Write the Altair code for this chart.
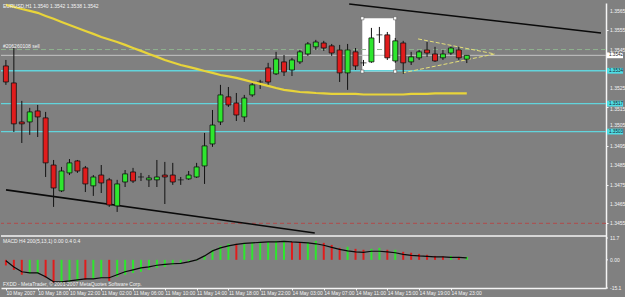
import altair as alt
import pandas as pd

# ---------------- texts ----------------
symbol_title = "EURUSD,H1  1.3540 1.3542 1.3538 1.3542"
order_label = "#206260108 sell"
macd_title = "MACD H4 200(5,13,1) 0.00 0.4 0.4"
footer_text = "FXDD - MetaTrader, \u00a9 2001-2007 MetaQuotes Software Corp."

# ---------------- candles (H1) ----------------
opens = [1.35365, 1.35277, 1.35075, 1.35075, 1.35132, 1.35096, 1.34852, 1.34718, 1.34811, 1.34873,
         1.34837, 1.34744, 1.34800, 1.34775, 1.34640, 1.34764, 1.34816, 1.34790, 1.34775, 1.34775,
         1.34800, 1.34800, 1.34775, 1.34780, 1.34790, 1.34847, 1.34961, 1.35075, 1.35205, 1.35173,
         1.35101, 1.35215, 1.35282, 1.35355, 1.35324, 1.35386, 1.35344, 1.35386, 1.35427, 1.35464,
         1.35484, 1.35469, 1.35448, 1.35329, 1.35438, 1.35381, 1.35386, 1.35526, 1.35526, 1.35391,
         1.35484, 1.35386, 1.35407, 1.35448, 1.35427, 1.35407, 1.35432, 1.35448, 1.35400]
highs = [1.35396, 1.35458, 1.35184, 1.35148, 1.35163, 1.35127, 1.34878, 1.34842, 1.34883, 1.34878,
         1.34847, 1.34800, 1.34852, 1.34785, 1.34775, 1.34826, 1.34837, 1.34811, 1.34800, 1.34878,
         1.34868, 1.34863, 1.34790, 1.34821, 1.34863, 1.35018, 1.35137, 1.35267, 1.35256, 1.35225,
         1.35215, 1.35282, 1.35293, 1.35381, 1.35438, 1.35422, 1.35407, 1.35448, 1.35489, 1.35500,
         1.35495, 1.35479, 1.35474, 1.35479, 1.35458, 1.35396, 1.35562, 1.35567, 1.35541, 1.35510,
         1.35495, 1.35438, 1.35448, 1.35489, 1.35464, 1.35448, 1.35464, 1.35464, 1.35420]
lows = [1.35267, 1.35023, 1.34966, 1.35008, 1.34997, 1.34790, 1.34635, 1.34712, 1.34800, 1.34811,
        1.34712, 1.34692, 1.34707, 1.34635, 1.34609, 1.34738, 1.34759, 1.34769, 1.34738, 1.34738,
        1.34650, 1.34749, 1.34749, 1.34775, 1.34785, 1.34754, 1.34946, 1.35059, 1.35153, 1.35080,
        1.35075, 1.35205, 1.35246, 1.35262, 1.35318, 1.35313, 1.35313, 1.35375, 1.35417, 1.35448,
        1.35443, 1.35417, 1.35282, 1.35241, 1.35344, 1.35365, 1.35381, 1.35484, 1.35396, 1.35381,
        1.35324, 1.35370, 1.35396, 1.35412, 1.35386, 1.35396, 1.35422, 1.35396, 1.35380]
closes = [1.35282, 1.35065, 1.35065, 1.35127, 1.35101, 1.34863, 1.34733, 1.34821, 1.34863, 1.34821,
          1.34754, 1.34790, 1.34759, 1.34645, 1.34754, 1.34806, 1.34769, 1.34790, 1.34785, 1.34790,
          1.34790, 1.34764, 1.34775, 1.34800, 1.34842, 1.34951, 1.35059, 1.35215, 1.35163, 1.35111,
          1.35199, 1.35267, 1.35282, 1.35282, 1.35401, 1.35334, 1.35396, 1.35438, 1.35479, 1.35489,
          1.35458, 1.35432, 1.35329, 1.35448, 1.35365, 1.35381, 1.35510, 1.35526, 1.35407, 1.35495,
          1.35381, 1.35412, 1.35438, 1.35432, 1.35391, 1.35427, 1.35458, 1.35407, 1.35420]
ma_values = [1.35681, 1.35671, 1.35660, 1.35650, 1.35640, 1.35624, 1.35609, 1.35593, 1.35577, 1.35562,
             1.35546, 1.35531, 1.35515, 1.35502, 1.35489, 1.35474, 1.35458, 1.35443, 1.35427, 1.35412,
             1.35396, 1.35383, 1.35370, 1.35360, 1.35350, 1.35339, 1.35329, 1.35318, 1.35311, 1.35303,
             1.35293, 1.35282, 1.35272, 1.35262, 1.35251, 1.35241, 1.35236, 1.35230, 1.35228, 1.35225,
             1.35223, 1.35220, 1.35220, 1.35220, 1.35220, 1.35217, 1.35217, 1.35217, 1.35217, 1.35217,
             1.35217, 1.35220, 1.35220, 1.35220, 1.35223, 1.35223, 1.35223, 1.35223, 1.35223]

# ---------------- MACD ----------------
macd_hist = [-3.0, -5.4, -8.0, -7.5, -7.5, -9.6, -12.3, -12.3, -11.8, -11.3,
             -10.7, -10.2, -9.6, -11.3, -9.1, -8.0, -7.0, -6.4, -5.4, -4.3,
             -3.8, -2.7, -1.6, -1.1, -0.3, 2.1, 5.4, 7.5, 8.6, 8.6,
             9.1, 9.6, 9.6, 9.6, 10.2, 10.2, 9.6, 9.1, 9.6, 10.2,
             9.1, 8.0, 6.4, 7.0, 5.9, 5.4, 5.9, 6.4, 5.4, 5.4,
             4.3, 3.8, 3.2, 2.7, 2.1, 1.9, 2.1, 1.6, 1.6]
macd_colors = ["r", "r", "r", "g", "g", "r", "r", "g", "g", "g",
               "r", "g", "g", "r", "g", "g", "g", "g", "g", "g",
               "g", "g", "g", "g", "g", "g", "g", "g", "g", "r",
               "g", "g", "g", "g", "g", "g", "r", "r", "g", "g",
               "r", "r", "r", "g", "r", "r", "g", "g", "r", "g",
               "r", "r", "r", "r", "r", "r", "g", "r", "g"]
macd_signal = [-0.5, -3.8, -6.4, -7.0, -7.0, -9.1, -11.8, -11.8, -11.3, -10.7,
               -10.2, -10.2, -9.6, -9.6, -8.0, -6.4, -5.4, -4.3, -3.8, -2.9,
               -2.4, -2.1, -1.9, -1.1, 0.0, 2.1, 4.8, 6.4, 7.5, 8.3,
               8.8, 9.1, 9.4, 9.6, 9.6, 9.9, 9.6, 9.4, 9.1, 8.6,
               7.8, 6.7, 5.6, 4.8, 4.3, 4.0, 4.6, 4.6, 4.3, 3.8,
               2.9, 2.4, 2.1, 1.9, 1.6, 1.6, 1.3, 1.3, 1.1]
macd_ticks = [11.7, 0.0, -15.1]
macd_tick_labels = ["11.7", "0.00", "-15.1"]

# ---------------- axes ----------------
time_tick_index = [0, 4, 8, 12, 16, 20, 24, 28, 32, 36, 40, 44, 48, 52, 56]
time_tick_labels = ["10 May 2007", "10 May 18:00", "10 May 22:00", "11 May 02:00", "11 May 06:00",
                    "11 May 10:00", "11 May 14:00", "11 May 18:00", "11 May 22:00", "14 May 03:00",
                    "14 May 07:00", "14 May 11:00", "14 May 15:00", "14 May 19:00", "14 May 23:00"]
price_ticks = [1.3565, 1.3555, 1.3545, 1.3535, 1.3525, 1.3515, 1.3505, 1.3495,
               1.3485, 1.3475, 1.3465, 1.3455]
# the 1.3535 label is hidden behind the 1.3534 line tag in the reference
price_label_values = [1.3565, 1.3555, 1.3545, 1.3525, 1.3515, 1.3505, 1.3495,
                      1.3485, 1.3475, 1.3465, 1.3455]
price_label_texts = ["1.3565", "1.3555", "1.3545", "1.3525", "1.3515", "1.3505", "1.3495",
                     "1.3485", "1.3475", "1.3465", "1.3455"]
# labels sitting just under / just over a line tag
label_below_tag = "1.3515"
label_above_tag = "1.3505"

# ---------------- chart objects ----------------
level_prices = [1.3545, 1.3542, 1.3534, 1.3517, 1.35025, 1.3455]
level_kinds = ["order", "bid", "line", "line", "line", "stop"]
level_texts = ["", "1.3542", "1.3534", "1.3517", "1.3503", ""]
upper_trend_i = [43.2, 74.89]
upper_trend_p = [1.35686, 1.35536]
lower_trend_i = [0.012, 38.87]
lower_trend_p = [1.34723, 1.34500]
tri_i = [51.87, 61.52, 49.89, 61.52]
tri_p = [1.35505, 1.35427, 1.35329, 1.35427]
tri_seg = ["u", "u", "l", "l"]
box_i = [44.85, 48.98]
box_p = [1.35336, 1.35612]

# ---------------- styling ----------------
BG = "#808080"
GREEN = "#2ee62e"
RED = "#e01c1c"
CYAN = "#62d4dc"
WHITE = "#f4f4f4"
FONT = "Liberation Sans"
FS = 5

W, H = 605, 285          # whole plot: price panel on top, MACD panel in the lowest 50 px
MAIN_H = 233
X_DOM = [0.012, 74.89]
Y_DOM = [1.34215, 1.35691]     # price panel occupies the upper 233 px
M_DOM = [-15.1, 137.66]        # MACD panel occupies the lower 50 px

xs = alt.Scale(domain=X_DOM, nice=False, zero=False)
ys = alt.Scale(domain=Y_DOM, nice=False, zero=False)
ms = alt.Scale(domain=M_DOM, nice=False, zero=False)

n = len(opens)
df = pd.DataFrame({
    "i": list(range(n)), "open": opens, "high": highs, "low": lows, "close": closes,
    "ma": ma_values, "hist": macd_hist, "hcol": macd_colors, "sig": macd_signal,
})
base = alt.Chart(df)

label_array = "[" + ",".join("'" + s + "'" for s in time_tick_labels) + "]"
x_axis = alt.Axis(orient="bottom", values=time_tick_index,
                  labelExpr=label_array + "[round(datum.value / 4)]",
                  labelAlign="left", labelBaseline="top", labelFontSize=FS, labelFont=FONT,
                  labelColor=WHITE, tickColor=WHITE, tickSize=2, labelPadding=0,
                  domainColor=WHITE, domainWidth=1.5, grid=False, labelOverlap=False,
                  labelFlush=False, title=None)
y_axis = alt.Axis(orient="right", values=price_ticks, labels=False, tickColor=WHITE, tickSize=2,
                  domainColor=WHITE, domainWidth=1.5, grid=False, title=None)

X = lambda f: alt.X(f, scale=xs, title=None)
Y = lambda f: alt.Y(f, scale=ys, title=None)
M = lambda f: alt.Y(f, scale=ms, title=None, axis=None)

# ---- price panel ----
wicks = base.mark_rule(color="#111111", strokeWidth=1, clip=True).encode(
    x=alt.X("i:Q", scale=xs, axis=x_axis, title=None),
    y=alt.Y("low:Q", scale=ys, axis=y_axis, title=None),
    y2="high:Q",
)
bodies = base.transform_calculate(body="abs(datum.close - datum.open)").transform_filter(
    "datum.body >= 0.00003"
).mark_bar(size=5, stroke="#111111", strokeWidth=0.8, clip=True).encode(
    x=X("i:Q"), y=Y("open:Q"), y2="close:Q",
    color=alt.condition("datum.close >= datum.open", alt.value(GREEN), alt.value(RED)),
)
dojis = base.transform_calculate(body="abs(datum.close - datum.open)").transform_filter(
    "datum.body < 0.00003"
).mark_tick(orient="horizontal", size=6, thickness=1, color="#111111", clip=True).encode(
    x=X("i:Q"), y=Y("open:Q"))
ma_line = base.mark_line(color="#e8d43a", strokeWidth=2.2, clip=True).encode(
    x=X("i:Q"), y=Y("ma:Q"))

levels_df = pd.DataFrame({"p": level_prices, "kind": level_kinds, "txt": level_texts})
lv = alt.Chart(levels_df)
order_line = lv.transform_filter("datum.kind == 'order'").mark_rule(
    color="#8fb28f", strokeWidth=1, strokeDash=[5, 3]).encode(y=Y("p:Q"))
bid_line = lv.transform_filter("datum.kind == 'bid'").mark_rule(
    color="#c4c4c4", strokeWidth=1).encode(y=Y("p:Q"))
cyan_lines = lv.transform_filter("datum.kind == 'line'").mark_rule(
    color=CYAN, strokeWidth=1.4).encode(y=Y("p:Q"))
stop_line = lv.transform_filter("datum.kind == 'stop'").mark_rule(
    color="#b04a4a", strokeWidth=1, strokeDash=[4, 3]).encode(y=Y("p:Q"))

pt = alt.Chart(pd.DataFrame({"p": price_label_values, "lab": price_label_texts}))
label_style = dict(align="left", baseline="middle", font=FONT, fontSize=FS, color=WHITE)
price_labels = pt.transform_filter(
    f"datum.lab != '{label_below_tag}' && datum.lab != '{label_above_tag}'"
).mark_text(**label_style).encode(x=alt.value(W + 4), y=Y("p:Q"), text="lab:N")
price_label_low = pt.transform_filter(f"datum.lab == '{label_below_tag}'").mark_text(
    dy=1.5, **label_style).encode(x=alt.value(W + 4), y=Y("p:Q"), text="lab:N")
price_label_high = pt.transform_filter(f"datum.lab == '{label_above_tag}'").mark_text(
    dy=-1.5, **label_style).encode(x=alt.value(W + 4), y=Y("p:Q"), text="lab:N")

tag_data = lv.transform_filter("datum.txt != ''").transform_calculate(
    lo="datum.p - 0.00015", hi="datum.p + 0.00015")
tag_boxes = tag_data.mark_rect().encode(
    x=alt.value(W + 1), x2=alt.value(W + 17), y=Y("lo:Q"), y2="hi:Q",
    color=alt.condition("datum.kind == 'bid'", alt.value("#ffffff"), alt.value("#4fdde6")),
)
tag_text = tag_data.mark_text(align="left", baseline="middle", font=FONT, fontSize=4.6,
                              color="#1a1a1a").encode(
    x=alt.value(W + 3), y=Y("p:Q"), text="txt:N")
order_text = lv.transform_filter("datum.kind == 'order'").mark_text(
    align="left", baseline="bottom", dy=-1, font=FONT, fontSize=FS, color=WHITE
).encode(x=alt.value(2), y=Y("p:Q"), text=alt.value(order_label))

trend_df = pd.DataFrame({"i": upper_trend_i + lower_trend_i,
                         "p": upper_trend_p + lower_trend_p,
                         "seg": ["u", "u", "l", "l"]})
trends = alt.Chart(trend_df).mark_line(color="#0a0a0a", strokeWidth=1.6, clip=True).encode(
    x=X("i:Q"), y=Y("p:Q"), detail="seg:N")

tri_df = pd.DataFrame({"i": tri_i, "p": tri_p, "seg": tri_seg})
triangle = alt.Chart(tri_df).mark_line(color="#e6e07a", strokeWidth=1, strokeDash=[4, 2],
                                       clip=True).encode(
    x=X("i:Q"), y=Y("p:Q"), detail="seg:N")

box_df = pd.DataFrame({"i0": [box_i[0]], "i1": [box_i[1]], "p0": [box_p[0]], "p1": [box_p[1]]})
box = alt.Chart(box_df).mark_rect(fill="#ffffff").encode(
    x=X("i0:Q"), x2="i1:Q", y=Y("p0:Q"), y2="p1:Q")
corner_df = pd.DataFrame({"i": [box_i[0], box_i[1], box_i[0], box_i[1]],
                          "p": [box_p[0], box_p[0], box_p[1], box_p[1]]})
corners = alt.Chart(corner_df).mark_square(size=10, fill="#ffffff", stroke="#555555",
                                           strokeWidth=0.6, opacity=1).encode(
    x=X("i:Q"), y=Y("p:Q"))

one = alt.Chart(pd.DataFrame({"t": [symbol_title]}))
title_text = one.mark_text(align="left", baseline="top", font=FONT, fontSize=FS,
                           color=WHITE).encode(x=alt.value(2), y=alt.value(1), text="t:N")
separator = one.mark_rule(color=WHITE, strokeWidth=1.5).encode(
    x=alt.value(0), x2=alt.value(W), y=alt.value(MAIN_H))

price_panel = alt.layer(
    box, order_line, bid_line, cyan_lines, stop_line, trends, triangle,
    wicks, bodies, dojis, ma_line, corners, order_text, title_text, separator,
    price_labels, price_label_low, price_label_high, tag_boxes, tag_text,
)

# ---- MACD panel ----
hist = base.transform_calculate(zero="0").mark_bar(size=2, clip=True).encode(
    x=X("i:Q"), y=M("hist:Q"), y2="zero:Q",
    color=alt.condition("datum.hcol == 'g'", alt.value(GREEN), alt.value(RED)),
)
signal = base.mark_line(color="#0a0a0a", strokeWidth=1.2, clip=True).encode(
    x=X("i:Q"), y=M("sig:Q"))

mt_df = pd.DataFrame({"v": macd_ticks, "lab": macd_tick_labels})
macd_tick_marks = alt.Chart(mt_df).mark_rule(color=WHITE, strokeWidth=1).encode(
    x=alt.value(W), x2=alt.value(W + 2), y=M("v:Q"))
macd_tick_text = alt.Chart(mt_df).mark_text(align="left", baseline="middle", font=FONT,
                                            fontSize=FS, color=WHITE).encode(
    x=alt.value(W + 4), y=M("v:Q"), text="lab:N")

texts_df = pd.DataFrame({"t": [macd_title]})
macd_text = alt.Chart(texts_df).mark_text(align="left", baseline="top", font=FONT, fontSize=FS,
                                          color=WHITE).encode(
    x=alt.value(2), y=alt.value(MAIN_H + 3), text="t:N")
foot_df = pd.DataFrame({"t": [footer_text]})
foot_text = alt.Chart(foot_df).mark_text(align="left", baseline="bottom", font=FONT, fontSize=FS,
                                         color=WHITE).encode(
    x=alt.value(2), y=alt.value(H - 1), text="t:N")

macd_panel = alt.layer(hist, signal, macd_tick_marks, macd_tick_text, macd_text, foot_text)

chart = alt.layer(price_panel, macd_panel).resolve_scale(y="independent").properties(
    width=W, height=H,
    padding={"left": 1, "top": 3, "right": 19, "bottom": 9},
    autosize=alt.AutoSizeParams(type="none"),
    background=BG,
).configure_view(stroke=None, fill=BG)

chart.save("out.html", embed_options={"renderer": "svg", "actions": False})
